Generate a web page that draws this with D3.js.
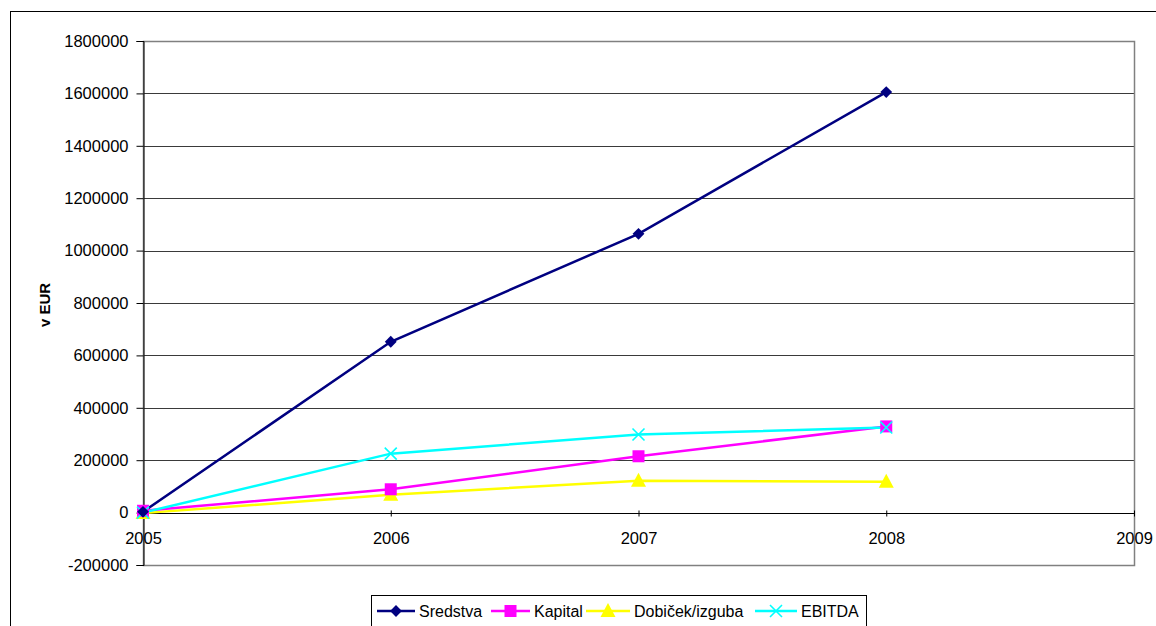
<!DOCTYPE html>
<html>
<head>
<meta charset="utf-8">
<script src="https://cdn.jsdelivr.net/npm/d3@7"></script>
<style>
  html, body { margin: 0; padding: 0; background: #fff; }
  svg { display: block; font-family: "Liberation Sans", Arial, sans-serif; }
</style>
</head>
<body>
<svg id="chart" width="1156" height="626"></svg>
<script>
// Years on the x axis
const years = [2005, 2006, 2007, 2008];
const xTicks = [2005, 2006, 2007, 2008, 2009];
const yTicks = [-200000, 0, 200000, 400000, 600000, 800000, 1000000, 1200000, 1400000, 1600000, 1800000];

// Series values in EUR
const sredstva = [3000, 652000, 1064000, 1605000];
const kapital = [7000, 89000, 215000, 329000];
const dobicek = [-2000, 68000, 122000, 118000];
const ebitda = [0, 225000, 298000, 325000];

const seriesNames = ["Sredstva", "Kapital", "Dobiček/izguba", "EBITDA"];
const seriesColors = ["#000080", "#FF00FF", "#FFFF00", "#00FFFF"];
const seriesMarkers = ["diamond", "square", "triangle", "cross"];
const seriesValues = [sredstva, kapital, dobicek, ebitda];

const plainNumber = d => String(d); // plain hyphen for negatives

const svg = d3.select("#chart");

// outer chart frame
svg.append("rect")
  .attr("x", 10.5).attr("y", 11.5)
  .attr("width", 1200).attr("height", 700)
  .attr("fill", "#fff").attr("stroke", "#000").attr("stroke-width", 1);

const plot = { left: 143, right: 1134, top: 41, bottom: 565 };

const x = d3.scaleLinear().domain([2005, 2009]).range([plot.left, plot.right]);
const y = d3.scaleLinear().domain([-200000, 1800000]).range([plot.bottom, plot.top]);

// horizontal gridlines
svg.append("g")
  .selectAll("line")
  .data(yTicks)
  .join("line")
  .attr("x1", plot.left).attr("x2", plot.right)
  .attr("y1", d => Math.round(y(d)) + 0.5).attr("y2", d => Math.round(y(d)) + 0.5)
  .attr("stroke", "#3a3a3a").attr("stroke-width", 1);

// plot area border
svg.append("rect")
  .attr("x", plot.left + 0.5).attr("y", plot.top + 0.5)
  .attr("width", plot.right - plot.left).attr("height", plot.bottom - plot.top)
  .attr("fill", "none").attr("stroke", "#808080").attr("stroke-width", 1.5);

// y axis
const yAxis = d3.axisLeft(y).tickValues(yTicks).tickSize(7).tickPadding(8).tickFormat(plainNumber);
const gy = svg.append("g")
  .attr("transform", `translate(${plot.left + 0.5},0)`)
  .call(yAxis);
gy.select(".domain").attr("stroke", "#000");
gy.selectAll(".tick line").attr("stroke", "#000");
gy.selectAll(".tick text").attr("font-size", 16.5).attr("fill", "#000")
  .attr("font-family", "Liberation Sans, Arial, sans-serif");

// x axis, crossing at zero
const xAxis = d3.axisBottom(x).tickValues(xTicks).tickSize(5).tickPadding(14).tickFormat(plainNumber);
const gx = svg.append("g")
  .attr("transform", `translate(0,${Math.round(y(0)) + 0.5})`)
  .call(xAxis);
gx.select(".domain").attr("stroke", "#000").attr("d", `M${plot.left},0H${plot.right}`);
gx.selectAll(".tick line").attr("stroke", "#000").attr("y1", -3).attr("y2", 3);
gx.selectAll(".tick text").attr("font-size", 16.5).attr("fill", "#000")
  .attr("font-family", "Liberation Sans, Arial, sans-serif");

// axis title
svg.append("text")
  .attr("transform", `translate(50,305) rotate(-90)`)
  .attr("text-anchor", "middle")
  .attr("font-size", 15).attr("font-weight", "bold")
  .text("v EUR");

// marker drawing
function drawMarker(g, type, color, cx, cy) {
  if (type === "diamond") {
    g.append("path").attr("d", d3.symbol(d3.symbolSquare, 70)())
      .attr("transform", `translate(${cx},${cy}) rotate(45)`)
      .attr("fill", color);
  } else if (type === "square") {
    g.append("rect").attr("x", cx - 6).attr("y", cy - 6).attr("width", 12).attr("height", 12)
      .attr("fill", color);
  } else if (type === "triangle") {
    g.append("path").attr("d", `M${cx},${cy - 8}L${cx + 7.5},${cy + 6}L${cx - 7.5},${cy + 6}Z`)
      .attr("fill", color);
  } else {
    g.append("path").attr("d", `M${cx - 6},${cy - 6}L${cx + 6},${cy + 6}M${cx - 6},${cy + 6}L${cx + 6},${cy - 6}`)
      .attr("stroke", color).attr("stroke-width", 1.6).attr("fill", "none");
  }
}

const line = d3.line().x((d, i) => x(years[i])).y(d => y(d));

// series lines and markers
const order = [2, 1, 3, 0];
order.forEach(s => {
  svg.append("path")
    .attr("d", line(seriesValues[s]))
    .attr("fill", "none")
    .attr("stroke", seriesColors[s])
    .attr("stroke-width", 2.5);
});
order.forEach(s => {
  const g = svg.append("g");
  seriesValues[s].forEach((v, i) => drawMarker(g, seriesMarkers[s], seriesColors[s], x(years[i]), y(v)));
});

// legend
const legend = svg.append("g");
legend.append("rect")
  .attr("x", 371.5).attr("y", 595.5).attr("width", 495).attr("height", 60)
  .attr("fill", "#fff").attr("stroke", "#000").attr("stroke-width", 1);
const legendItems = [
  { x0: 377, x1: 415, tx: 419 },
  { x0: 491, x1: 530, tx: 534 },
  { x0: 586, x1: 630, tx: 634 },
  { x0: 755, x1: 797, tx: 801 }
];
legendItems.forEach((it, s) => {
  const ly = 611;
  legend.append("line")
    .attr("x1", it.x0).attr("x2", it.x1).attr("y1", ly).attr("y2", ly)
    .attr("stroke", seriesColors[s]).attr("stroke-width", 2.5);
  drawMarker(legend, seriesMarkers[s], seriesColors[s], (it.x0 + it.x1) / 2, ly);
  legend.append("text")
    .attr("x", it.tx).attr("y", ly + 6)
    .attr("font-size", 16)
    .text(seriesNames[s]);
});
</script>
</body>
</html>
